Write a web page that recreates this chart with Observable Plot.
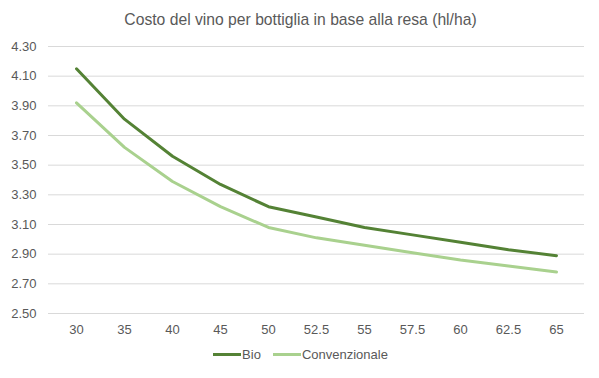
<!DOCTYPE html>
<html>
<head>
<meta charset="utf-8">
<script src="https://cdn.jsdelivr.net/npm/d3@7"></script>
<script src="https://cdn.jsdelivr.net/npm/@observablehq/plot@0.6"></script>
<style>
  body { margin: 0; background: #fff; width: 599px; height: 378px; overflow: hidden; }
  #title { height: 36px; line-height: 40px; text-align: center; font-family: "Liberation Sans", sans-serif; font-size: 15.7px; color: #595959; padding-left: 2px; }
  #legend { display: flex; justify-content: center; align-items: center; font-family: "Liberation Sans", sans-serif; font-size: 13px; color: #595959; margin-top: 4px; padding-left: 2px; }
  .item { display: flex; align-items: center; margin: 0 6px; }
  .sw { width: 28px; height: 3px; margin-right: 1px; }
  svg text { font-family: "Liberation Sans", sans-serif; }
</style>
</head>
<body>
<div id="title">Costo del vino per bottiglia in base alla resa (hl/ha)</div>
<div id="chart"></div>
<div id="legend"></div>
<script>
const categories = ["30", "35", "40", "45", "50", "52.5", "55", "57.5", "60", "62.5", "65"];
const bio = [4.15, 3.81, 3.56, 3.37, 3.22, 3.15, 3.08, 3.03, 2.98, 2.93, 2.89];
const convenzionale = [3.92, 3.62, 3.39, 3.22, 3.08, 3.01, 2.96, 2.91, 2.86, 2.82, 2.78];
const yTicks = [2.5, 2.7, 2.9, 3.1, 3.3, 3.5, 3.7, 3.9, 4.1, 4.3];
const seriesNames = ["Bio", "Convenzionale"];
const colors = ["#548235", "#a9d18e"];

const data = [];
categories.forEach((c, i) => {
  data.push({x: c, y: bio[i], s: seriesNames[0]});
  data.push({x: c, y: convenzionale[i], s: seriesNames[1]});
});

const plot = Plot.plot({
  width: 599,
  height: 307,
  marginTop: 10,
  marginBottom: 30,
  marginLeft: 48,
  marginRight: 15,
  x: {type: "point", domain: categories, padding: 0.5, label: null},
  y: {domain: [2.5, 4.3], label: null},
  color: {domain: seriesNames, range: colors},
  marks: [
    Plot.ruleY(yTicks, {stroke: "#d9d9d9", strokeWidth: 1}),
    Plot.axisY({ticks: yTicks, tickFormat: d => d.toFixed(2), tickSize: 0, tickPadding: 12, fontSize: 13, color: "#595959", label: null}),
    Plot.axisX({tickSize: 0, tickPadding: 11, fontSize: 13, color: "#595959", label: null}),
    Plot.line(data, {x: "x", y: "y", z: "s", stroke: "s", strokeWidth: 3, curve: "linear"})
  ]
});
plot.querySelectorAll("[aria-label='y-axis tick label'] text, [aria-label='x-axis tick label'] text").forEach(t => t.setAttribute("fill", "#595959"));
document.getElementById("chart").appendChild(plot);

const legend = document.getElementById("legend");
seriesNames.forEach((n, i) => {
  const it = document.createElement("div");
  it.className = "item";
  const sw = document.createElement("div");
  sw.className = "sw";
  sw.style.background = colors[i];
  const lb = document.createElement("span");
  lb.textContent = n;
  it.appendChild(sw);
  it.appendChild(lb);
  legend.appendChild(it);
});
</script>
</body>
</html>
